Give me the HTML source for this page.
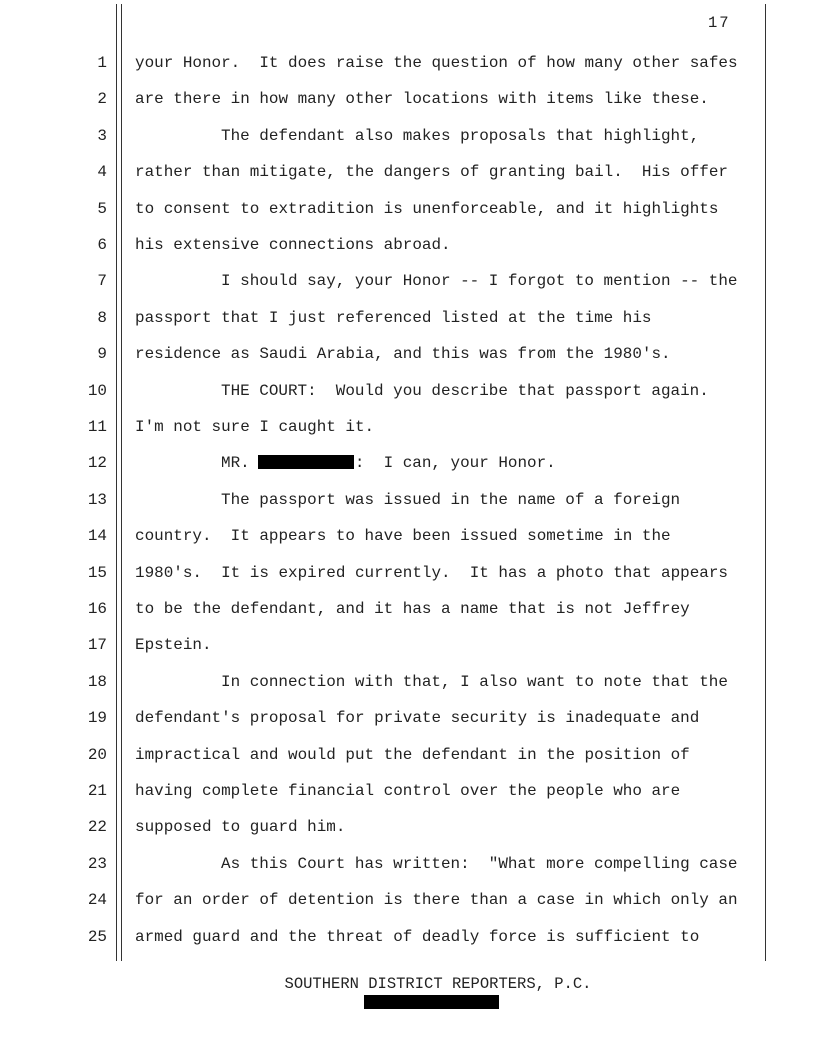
<!DOCTYPE html>
<html><head><meta charset="utf-8"><style>
body{margin:0;background:#fff;}
#p{position:relative;width:816px;height:1056px;overflow:hidden;font-family:"Liberation Mono",monospace;font-size:15.95px;color:#222;}
.v{position:absolute;top:4px;width:1px;height:957px;background:#333;}
.n{position:absolute;left:60px;width:47px;text-align:right;line-height:36.4px;height:36.4px;margin-top:1px;}
.t{position:absolute;left:135px;line-height:36.4px;height:36.4px;white-space:pre;margin-top:1px;}
.i{padding-left:86px;}
</style></head><body><div id="p">
<div class="v" style="left:116px"></div><div class="v" style="left:121px"></div><div class="v" style="left:765px"></div>
<div style="position:absolute;left:708px;top:14px;white-space:pre;font-size:15.5px;letter-spacing:2px">17</div>
<div class="n" style="top:44px">1</div><div class="t" style="top:44px">your Honor.  It does raise the question of how many other safes</div>
<div class="n" style="top:80.4px">2</div><div class="t" style="top:80.4px">are there in how many other locations with items like these.</div>
<div class="n" style="top:116.8px">3</div><div class="t i" style="top:116.8px">The defendant also makes proposals that highlight,</div>
<div class="n" style="top:153.2px">4</div><div class="t" style="top:153.2px">rather than mitigate, the dangers of granting bail.  His offer</div>
<div class="n" style="top:189.6px">5</div><div class="t" style="top:189.6px">to consent to extradition is unenforceable, and it highlights</div>
<div class="n" style="top:226px">6</div><div class="t" style="top:226px">his extensive connections abroad.</div>
<div class="n" style="top:262.4px">7</div><div class="t i" style="top:262.4px">I should say, your Honor -- I forgot to mention -- the</div>
<div class="n" style="top:298.8px">8</div><div class="t" style="top:298.8px">passport that I just referenced listed at the time his</div>
<div class="n" style="top:335.2px">9</div><div class="t" style="top:335.2px">residence as Saudi Arabia, and this was from the 1980's.</div>
<div class="n" style="top:371.6px">10</div><div class="t i" style="top:371.6px">THE COURT:  Would you describe that passport again.</div>
<div class="n" style="top:408px">11</div><div class="t" style="top:408px">I'm not sure I caught it.</div>
<div class="n" style="top:444.4px">12</div><div class="t i" style="top:444.4px">MR.           :  I can, your Honor.</div>
<div style="position:absolute;left:258px;top:455px;width:96px;height:14px;background:#000"></div>
<div class="n" style="top:480.8px">13</div><div class="t i" style="top:480.8px">The passport was issued in the name of a foreign</div>
<div class="n" style="top:517.2px">14</div><div class="t" style="top:517.2px">country.  It appears to have been issued sometime in the</div>
<div class="n" style="top:553.6px">15</div><div class="t" style="top:553.6px">1980's.  It is expired currently.  It has a photo that appears</div>
<div class="n" style="top:590px">16</div><div class="t" style="top:590px">to be the defendant, and it has a name that is not Jeffrey</div>
<div class="n" style="top:626.4px">17</div><div class="t" style="top:626.4px">Epstein.</div>
<div class="n" style="top:662.8px">18</div><div class="t i" style="top:662.8px">In connection with that, I also want to note that the</div>
<div class="n" style="top:699.2px">19</div><div class="t" style="top:699.2px">defendant's proposal for private security is inadequate and</div>
<div class="n" style="top:735.6px">20</div><div class="t" style="top:735.6px">impractical and would put the defendant in the position of</div>
<div class="n" style="top:772px">21</div><div class="t" style="top:772px">having complete financial control over the people who are</div>
<div class="n" style="top:808.4px">22</div><div class="t" style="top:808.4px">supposed to guard him.</div>
<div class="n" style="top:844.8px">23</div><div class="t i" style="top:844.8px">As this Court has written:  "What more compelling case</div>
<div class="n" style="top:881.2px">24</div><div class="t" style="top:881.2px">for an order of detention is there than a case in which only an</div>
<div class="n" style="top:917.6px">25</div><div class="t" style="top:917.6px">armed guard and the threat of deadly force is sufficient to</div>
<div style="position:absolute;left:0;width:876px;text-align:center;top:975px;white-space:pre;font-size:15.5px">SOUTHERN DISTRICT REPORTERS, P.C.</div>
<div style="position:absolute;left:364px;top:995px;width:135px;height:14px;background:#000"></div>
</div></body></html>
